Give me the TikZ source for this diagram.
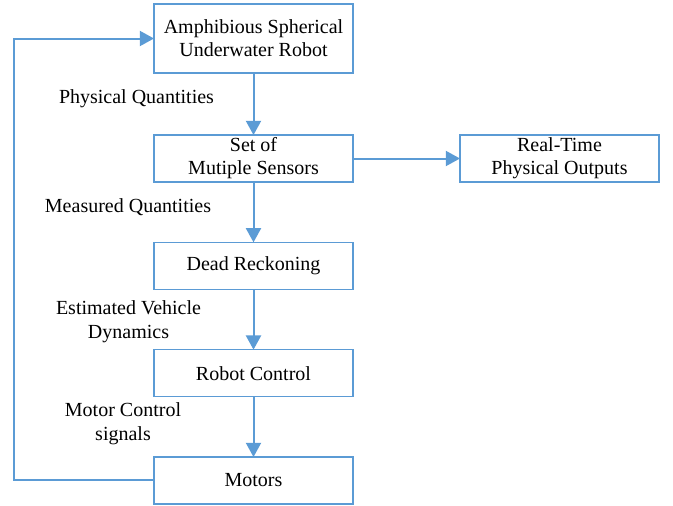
\documentclass[tikz,border=0pt]{standalone}
\usepackage{fontspec}
\setmainfont{Liberation Serif}
\usetikzlibrary{positioning, arrows.meta}
\definecolor{flowblue}{RGB}{91,155,213}

\begin{document}
\begin{tikzpicture}[
  x=0.6pt, y=-0.6pt,
  node distance=36.2pt and 64.2pt,
  block/.style={draw=flowblue, line width=0.9pt, outer sep=0pt, minimum width=119.4pt,
                minimum height=28.2pt, align=center, inner sep=1pt, font=\fontsize{12}{13.8}\selectfont},
  lbl/.style={align=center, inner sep=0pt, font=\fontsize{12}{14.4}\selectfont},
  arrow/.style={-{Triangle[length=8.5pt, width=9pt]}, line width=1.2pt, flowblue}
]
  \useasboundingbox (0,0) rectangle (673,506);
  \node[block, minimum height=41.4pt] (robot) at (253.5,38.5) {Amphibious Spherical\\Underwater Robot};
  \node[block, below=37.2pt of robot] (sensors) {Set of\\Mutiple Sensors};
  \node[block, right=of sensors] (outputs) {Real-Time\\Physical Outputs};
  \node[block, below=of sensors] (reckon) {Dead Reckoning};
  \node[block, below=of reckon] (control) {Robot Control};
  \node[block, below=of control] (motors) {Motors};
  \coordinate (loopcorner) at (14,38.5);
  \node[lbl] (physq) at (136.5,99) {Physical Quantities};
  \node[lbl] (measq) at (128,207) {Measured Quantities};
  \node[lbl] (estdyn) at (128.5,322) {Estimated Vehicle\\Dynamics};
  \node[lbl] (motsig) at (123,424) {Motor Control\\signals};
  \draw[arrow] (robot) -- (sensors);
  \draw[arrow] (sensors) -- (outputs);
  \draw[arrow] (sensors) -- (reckon);
  \draw[arrow] (reckon) -- (control);
  \draw[arrow] (control) -- (motors);
  \draw[arrow] (motors.west) -| (loopcorner) -- (robot.west);
\end{tikzpicture}
\end{document}
